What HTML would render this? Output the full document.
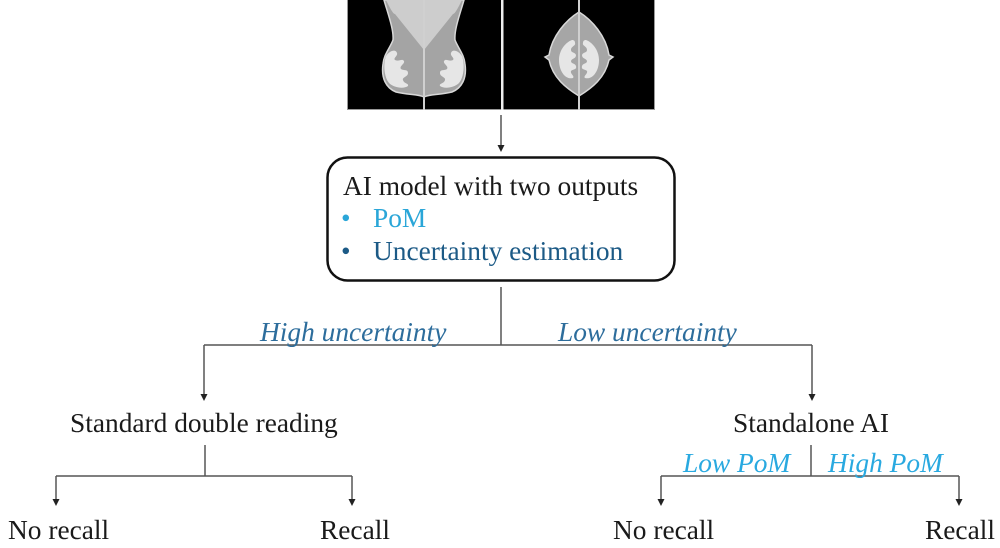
<!DOCTYPE html>
<html>
<head>
<meta charset="utf-8">
<style>
  html,body{margin:0;padding:0;background:#fff;}
  body{width:1000px;height:548px;overflow:hidden;}
  svg{display:block;}
  text{font-family:"Liberation Serif","Times New Roman",serif;font-size:27.4px;}
</style>
</head>
<body>
<svg width="1000" height="548" viewBox="0 0 1000 548" xmlns="http://www.w3.org/2000/svg">

  <!-- Mammogram panels -->
  <rect x="347.5" y="-1" width="155" height="110.5" fill="#000" stroke="#999" stroke-width="1"/>
  <rect x="502.5" y="-1" width="152" height="110.5" fill="#000" stroke="#999" stroke-width="1"/>
  <rect x="501" y="0" width="2.5" height="110" fill="#eee"/>

  <!-- Left panel: mirrored breasts -->
  <g>
    <path d="M384,0 C388,14 394,30 393,40 C390,48 384,54 383,64 C381,78 386,88 396,92 C408,95 418,94 424,97 C430,94 440,95 452,92 C462,88 467,78 465,64 C464,54 458,48 455,40 C454,30 460,14 464,0 Z" fill="#a4a4a4" stroke="#d8d8d8" stroke-width="1.5"/>
    <path d="M386,0 C390,8 393,14 395,14 L424,50 L453,14 C455,14 458,8 462,0 Z" fill="#cdcdcd"/>
    <path d="M386,56 C390,50 396,49 397,53 C398,56 393,58 395,60 C399,62 402,58 404,61 C405,64 399,66 401,69 C404,71 408,69 408,73 C408,77 402,77 403,80 C404,84 409,83 408,86 C404,89 394,88 389,83 C384,77 383,64 386,56 Z" fill="#e6e6e6"/>
    <path d="M462,56 C458,50 452,49 451,53 C450,56 455,58 453,60 C449,62 446,58 444,61 C443,64 449,66 447,69 C444,71 440,69 440,73 C440,77 446,77 445,80 C444,84 439,83 440,86 C444,89 454,88 459,83 C464,77 465,64 462,56 Z" fill="#e6e6e6"/>
    <rect x="423" y="0" width="2" height="110" fill="#d0d0d0"/>
  </g>

  <!-- Right panel: almond -->
  <g>
    <path d="M579,12 C566,20 552,36 549,55 L545,57 L549,60 C553,78 566,88 579,96 C592,88 605,78 609,60 L613,57 L609,55 C606,36 592,20 579,12 Z" fill="#a6a6a6" stroke="#d8d8d8" stroke-width="1.5"/>
    <path d="M572,40 C566,42 559,50 559,60 C559,72 566,80 573,78 C575,76 570,74 571,71 C573,69 577,70 576,66 C575,63 571,64 571,61 C572,58 576,59 576,55 C575,52 571,53 571,50 C571,46 576,46 575,43 C575,41 574,40 572,40 Z" fill="#e6e6e6"/>
    <path d="M586,40 C592,42 599,50 599,60 C599,72 592,80 585,78 C583,76 588,74 587,71 C585,69 581,70 582,66 C583,63 587,64 587,61 C586,58 582,59 582,55 C583,52 587,53 587,50 C587,46 582,46 583,43 C583,41 584,40 586,40 Z" fill="#e6e6e6"/>
    <rect x="578" y="0" width="2" height="110" fill="#d0d0d0"/>
  </g>

  <!-- Arrow image -> box -->
  <line x1="501" y1="115" x2="501" y2="146" stroke="#555" stroke-width="1.5"/>
  <polygon points="497.5,145 504.5,145 501,152" fill="#222"/>

  <!-- AI model box -->
  <rect x="327.5" y="157.5" width="347" height="123" rx="20" ry="20" fill="#fff" stroke="#111" stroke-width="2.5"/>
  <text x="343" y="195" fill="#1a1a1a">AI model with two outputs</text>
  <text x="341" y="227" fill="#2aa6d8">•</text>
  <text x="373" y="227" fill="#2aa6d8">PoM</text>
  <text x="341" y="260" fill="#1c5a86">•</text>
  <text x="373" y="260" fill="#1c5a86">Uncertainty estimation</text>

  <!-- Uncertainty split -->
  <g stroke="#555" stroke-width="1.5" fill="none">
    <line x1="501" y1="287" x2="501" y2="345"/>
    <line x1="204" y1="345" x2="812" y2="345"/>
    <line x1="204" y1="345" x2="204" y2="395"/>
    <line x1="812" y1="345" x2="812" y2="395"/>
  </g>
  <polygon points="200.5,394 207.5,394 204,401" fill="#222"/>
  <polygon points="808.5,394 815.5,394 812,401" fill="#222"/>
  <text x="260" y="341" fill="#2d6d9c" font-style="italic">High uncertainty</text>
  <text x="558" y="341" fill="#2d6d9c" font-style="italic">Low uncertainty</text>

  <text x="70" y="432" fill="#1a1a1a">Standard double reading</text>
  <text x="733" y="432" fill="#1a1a1a">Standalone AI</text>

  <!-- Left sub-branch -->
  <g stroke="#555" stroke-width="1.5" fill="none">
    <line x1="205" y1="445" x2="205" y2="476"/>
    <line x1="56" y1="476" x2="352" y2="476"/>
    <line x1="56" y1="476" x2="56" y2="500"/>
    <line x1="352" y1="476" x2="352" y2="500"/>
  </g>
  <polygon points="52.5,499 59.5,499 56,506" fill="#222"/>
  <polygon points="348.5,499 355.5,499 352,506" fill="#222"/>

  <!-- Right sub-branch -->
  <g stroke="#555" stroke-width="1.5" fill="none">
    <line x1="811" y1="445" x2="811" y2="476"/>
    <line x1="661" y1="476" x2="959" y2="476"/>
    <line x1="661" y1="476" x2="661" y2="500"/>
    <line x1="959" y1="476" x2="959" y2="500"/>
  </g>
  <polygon points="657.5,499 664.5,499 661,506" fill="#222"/>
  <polygon points="955.5,499 962.5,499 959,506" fill="#222"/>
  <text x="683" y="472" fill="#29a9e0" font-style="italic">Low PoM</text>
  <text x="828" y="472" fill="#29a9e0" font-style="italic">High PoM</text>

  <text x="8" y="539" fill="#1a1a1a">No recall</text>
  <text x="320" y="539" fill="#1a1a1a">Recall</text>
  <text x="613" y="539" fill="#1a1a1a">No recall</text>
  <text x="925" y="539" fill="#1a1a1a">Recall</text>
</svg>
</body>
</html>
